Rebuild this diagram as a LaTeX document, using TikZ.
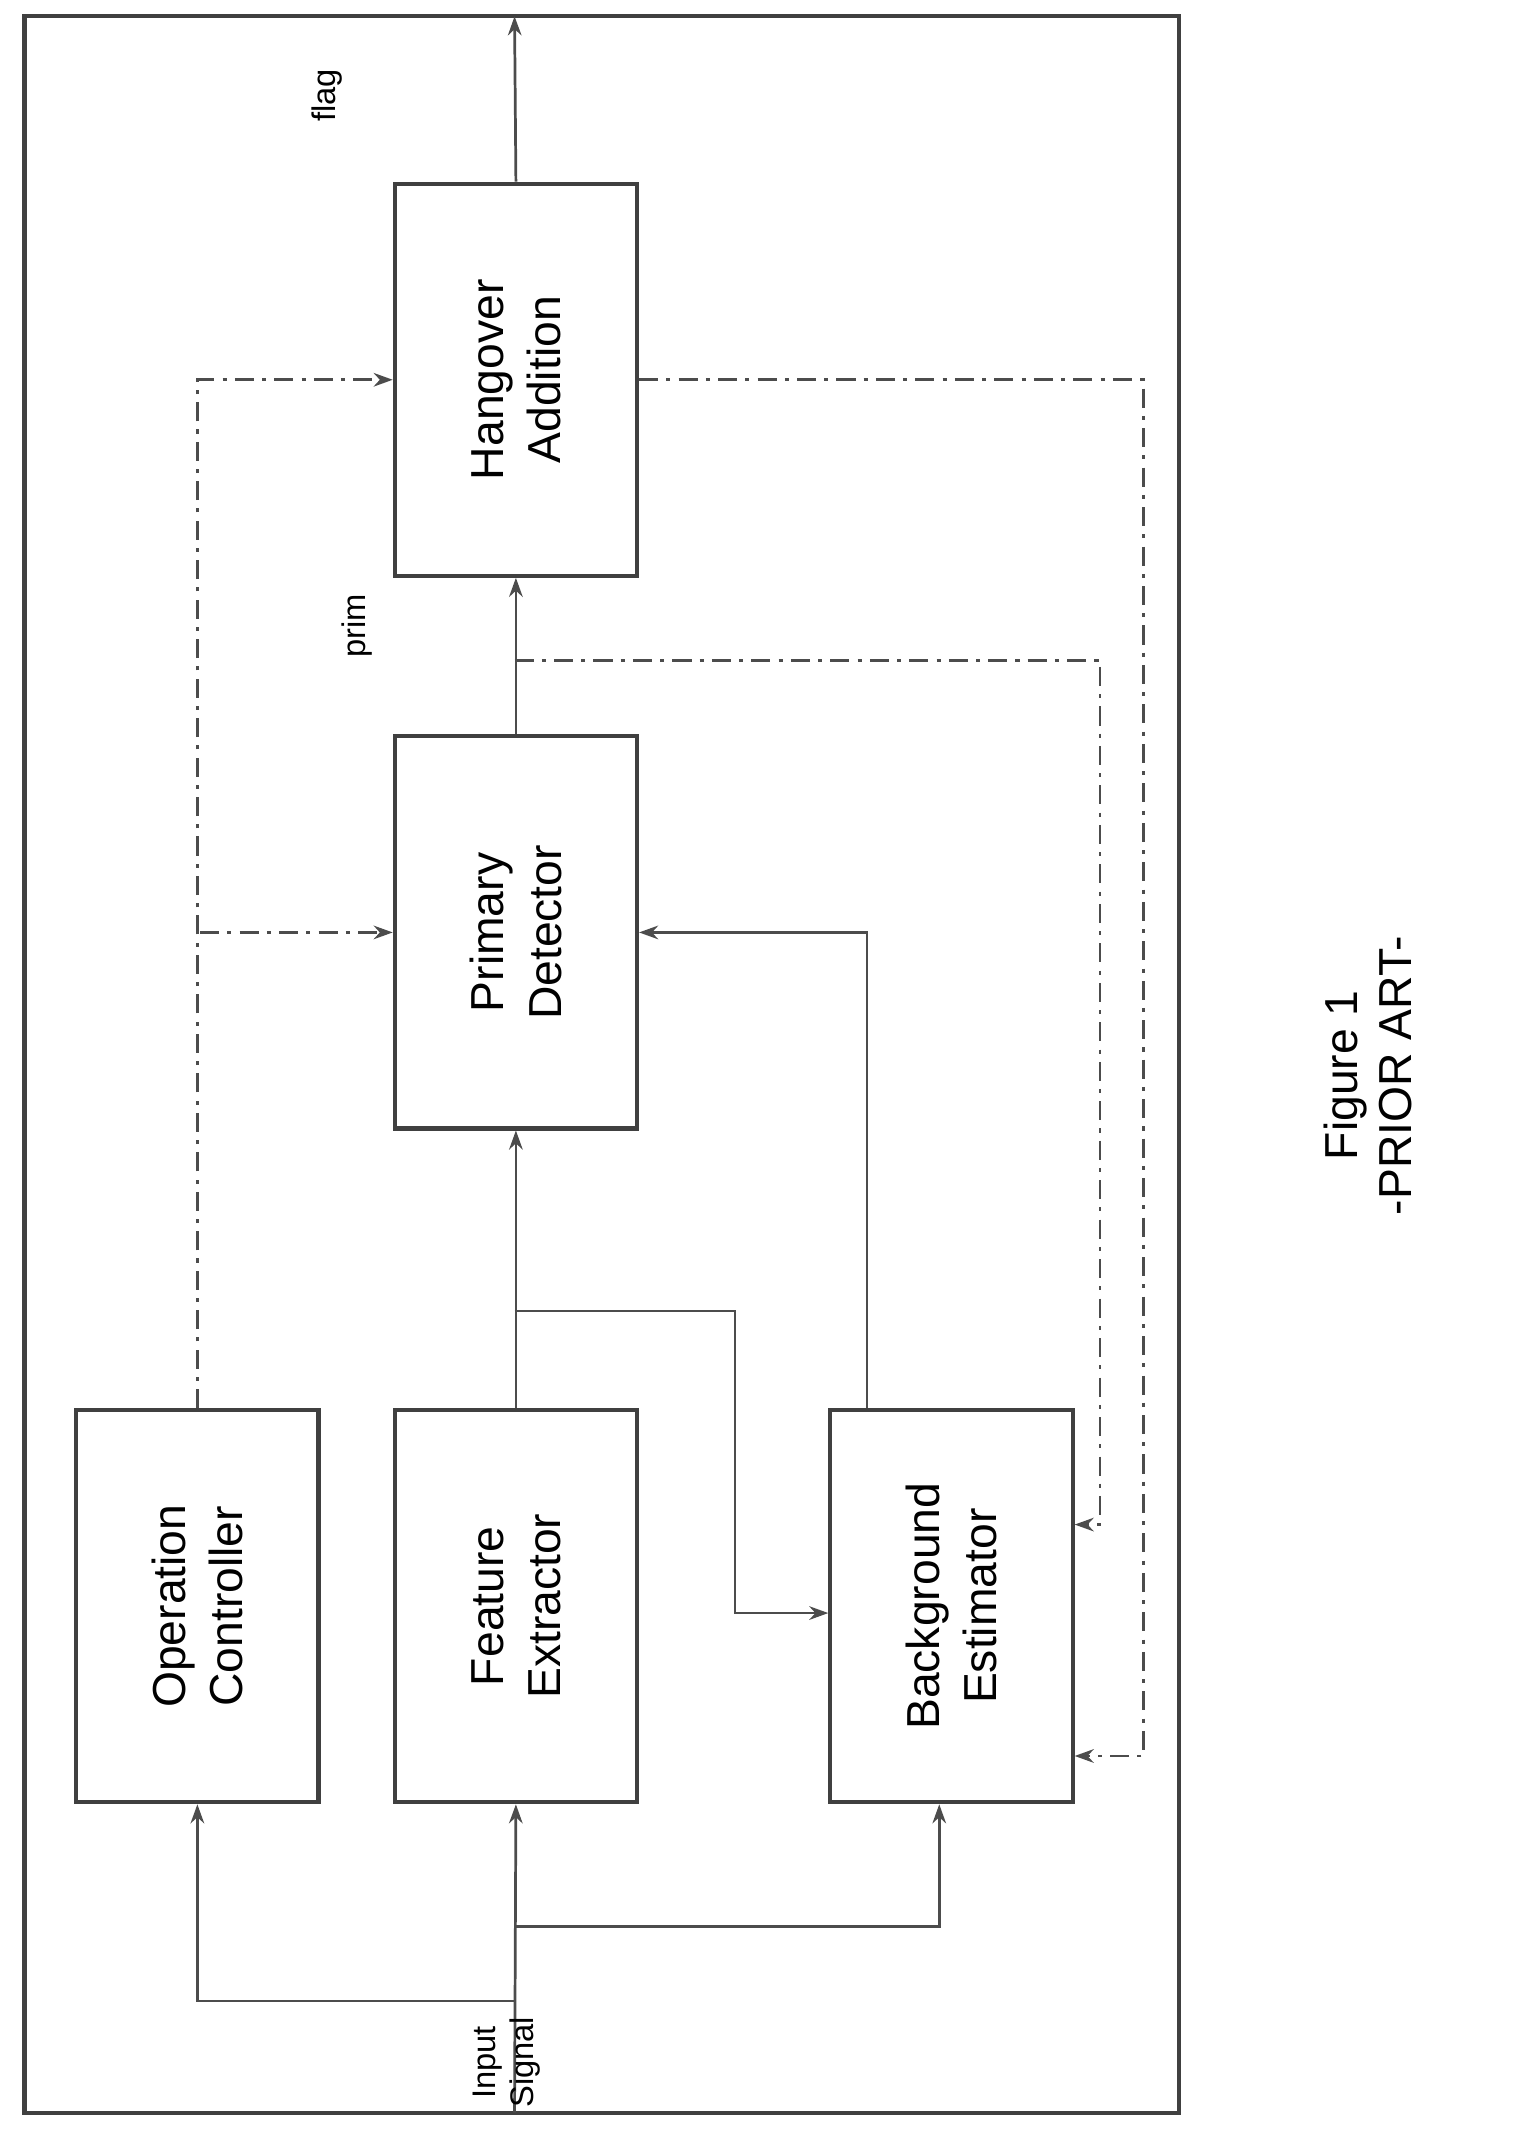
\documentclass[tikz,border=0pt]{standalone}
\usepackage{fontspec}
\setmainfont{Liberation Sans}
\usetikzlibrary{arrows.meta}
\tikzset{every picture/.style={line width=2pt}}
\tikzset{
  blk/.style={draw=black!75, line width=3pt, minimum width=288pt, minimum height=178pt, align=center, font=\fontsize{34}{42}\selectfont, rotate=90, inner sep=0pt},
  lbl/.style={font=\fontsize{24}{28}\selectfont, rotate=90, align=center, inner sep=0pt},
  sig/.style={draw=black!70, -{Stealth[length=14pt,width=10pt]}},
  ctl/.style={sig, dash pattern=on 14pt off 6pt on 3pt off 6pt},
}
\begin{document}
\begin{tikzpicture}[x=1pt,y=1pt,yscale=-1]
        \useasboundingbox (0,0) rectangle (1130,1578);
        %frame
        \draw [black!75, line width=3pt] (18,12) rectangle (866,1552);

        % Blocks
        \node [blk] (oc) at (145,1180) {Operation\\Controller};
        \node [blk] (fe) at (379,1180) {Feature\\Extractor};
        \node [blk] (be) at (699,1180) {Background\\Estimator};
        \node [blk] (pd) at (379,685) {Primary\\Detector};
        \node [blk] (ha) at (379,279) {Hangover\\Addition};

        % Coordinates
        \coordinate (in) at (378,1552);
        \coordinate (out) at (378,12);
        \coordinate (j1) at (378,1470);
        \coordinate (j2) at (378,1415);
        \coordinate (j3) at (378,963);
        \coordinate (j4) at (378,485);

        % Input branches
        \draw [sig] (in) -- (fe.west);
        \draw [sig] (j1) -| (oc.west);
        \draw [sig] (j2) -| ([xshift=-9pt]be.west);
        \draw [sig] (fe.east) -- (pd.west);
        \draw [sig] (j3) -- (540,963) |- ([yshift=5pt]be.north);
        \draw [sig] ([xshift=-62pt]be.east) |- (pd.south);
        \draw [sig] (pd.east) -- (ha.west);
        \draw [sig] (ha.east) -- (out);

        % Control lines
        \draw [ctl] (oc.east) |- (ha.north);
        \draw [ctl] (147,685) -- (pd.north);
        \draw [ctl] (j4) -- (808,485) |- ([yshift=-60pt]be.south);
        \draw [ctl] (ha.south) -- (840,279) |- ([yshift=110pt]be.south);

        % Labels
        \node [lbl] (lin) at (372,1515) {Input\\Signal};
        \node [lbl] (lprim) at (262,460) {prim};
        \node [lbl] (lflag) at (240,70) {flag};
        \node [rotate=90, align=center, font=\fontsize{34}{40}\selectfont] (cap) at (1005,790) {Figure 1\\-PRIOR ART-};
\end{tikzpicture}
\end{document}
